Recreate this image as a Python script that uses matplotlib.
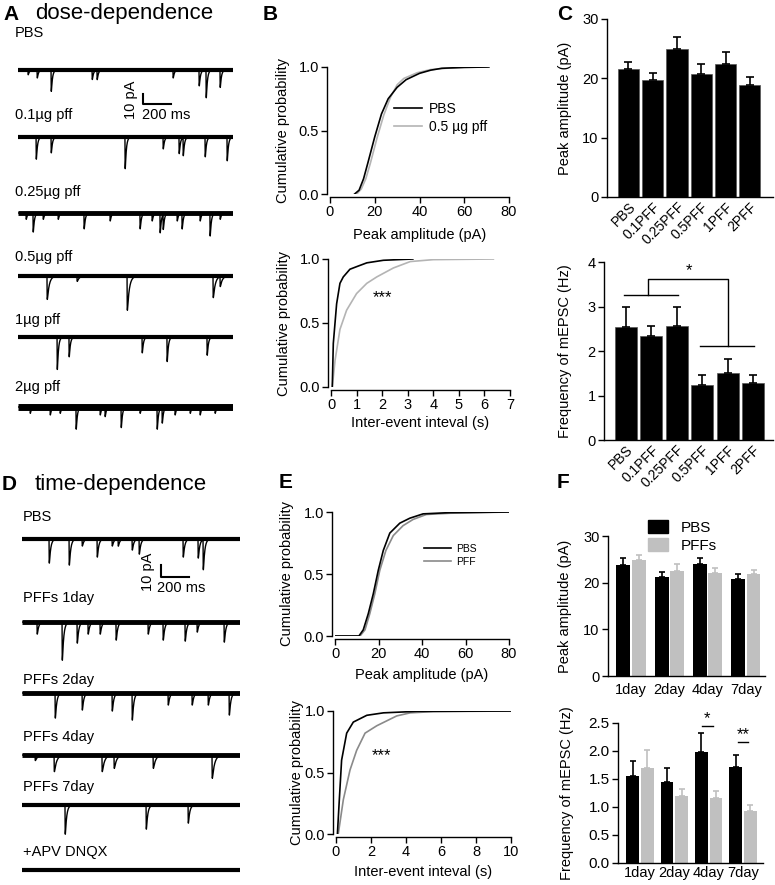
import numpy as np
import matplotlib
matplotlib.use("Agg")
import matplotlib.pyplot as plt
from matplotlib.patches import Patch

plt.rcParams['font.family'] = ['Liberation Sans', 'DejaVu Sans']

# ---------------- data ----------------
# traces: event times (ms) and amplitudes (pA)
A_LABELS = ["PBS", "0.1\u00b5g pff", "0.25\u00b5g pff", "0.5\u00b5g pff", "1\u00b5g pff", "2\u00b5g pff"]
A_PBS_T = [71, 136, 236, 529, 564, 1107, 1293, 1343, 1443]
A_PBS_A = [6, 10, 27, 12, 12, 10, 20, 35, 22]
A_01_T = [129, 236, 764, 1036, 1150, 1179, 1336, 1493]
A_01_A = [28, 20, 40, 15, 21, 23, 25, 30]
A_025_T = [57, 107, 179, 286, 471, 657, 871, 957, 1014, 1036, 1136, 1171, 1300, 1371, 1443]
A_025_A = [8, 24, 8, 8, 20, 10, 20, 10, 25, 19, 10, 20, 10, 29, 8]
A_05_T = [207, 421, 779, 1393, 1443]
A_05_A = [26, 6, 38, 24, 11]
A_1_T = [279, 364, 886, 1064, 1350]
A_1_A = [41, 25, 20, 31, 23]
A_2_T = [86, 229, 300, 414, 586, 621, 736, 871, 993, 1029, 1121, 1229, 1300, 1407]
A_2_A = [8, 10, 8, 28, 10, 12, 26, 8, 28, 20, 10, 8, 10, 8]

D_LABELS = ["PBS", "PFFs 1day", "PFFs 2day", "PFFs 4day", "PFFs 7day", "+APV DNQX"]
D_PBS_T = [193, 336, 429, 536, 643, 686, 786, 836, 1150, 1257, 1293]
D_PBS_A = [24, 26, 7, 18, 7, 7, 11, 15, 18, 19, 30]
D_1D_T = [107, 286, 393, 471, 557, 671, 900, 1007, 1164, 1250, 1443]
D_1D_A = [12, 38, 21, 12, 12, 18, 12, 18, 19, 10, 20]
D_2D_T = [236, 429, 643, 786, 1043, 1214, 1329, 1479]
D_2D_A = [25, 17, 18, 27, 12, 12, 12, 22]
D_4D_T = [93, 229, 571, 657, 936, 1357]
D_4D_A = [5, 15, 15, 12, 12, 21]
D_7D_T = [307, 886, 1186]
D_7D_A = [29, 24, 18]
D_APV_T = []
D_APV_A = []

# cumulative distributions
B_AMP_PBS_X = [11, 13, 15, 17, 20, 23, 26, 30, 34, 40, 45, 50, 60, 71]
B_AMP_PBS_Y = [0, 0.03, 0.12, 0.25, 0.45, 0.63, 0.75, 0.84, 0.90, 0.95, 0.975, 0.99, 0.997, 1.0]
B_AMP_PFF_X = [12, 14, 16, 18, 21, 24, 27, 30, 33, 39, 45, 52, 60, 70]
B_AMP_PFF_Y = [0, 0.04, 0.12, 0.24, 0.44, 0.62, 0.76, 0.86, 0.91, 0.955, 0.98, 0.99, 0.997, 1.0]
B_IEI_PBS_X = [0.05, 0.09, 0.22, 0.35, 0.48, 0.74, 1.0, 1.4, 2.05, 3.2]
B_IEI_PBS_Y = [0, 0.34, 0.65, 0.81, 0.86, 0.92, 0.94, 0.97, 0.99, 1.0]
B_IEI_PFF_X = [0.05, 0.16, 0.35, 0.61, 1.0, 1.4, 1.79, 2.44, 3.1, 4.0, 6.35]
B_IEI_PFF_Y = [0, 0.21, 0.45, 0.60, 0.73, 0.81, 0.86, 0.93, 0.98, 0.995, 1.0]

E_AMP_PBS_X = [0, 11, 13, 15.3, 17.6, 19.9, 22.2, 25.2, 29.8, 34.4, 40.5, 52.8, 80]
E_AMP_PBS_Y = [0, 0, 0.05, 0.18, 0.34, 0.53, 0.69, 0.83, 0.91, 0.95, 0.985, 0.995, 1.0]
E_AMP_PFF_X = [0, 11.5, 13.8, 16, 18.3, 20.6, 23.4, 26.8, 31.3, 35.9, 42, 52.8, 80]
E_AMP_PFF_Y = [0, 0, 0.05, 0.18, 0.34, 0.53, 0.69, 0.81, 0.89, 0.94, 0.98, 0.99, 1.0]
E_IEI_PBS_X = [0.08, 0.19, 0.32, 0.61, 0.99, 1.76, 2.71, 4.6, 10]
E_IEI_PBS_Y = [0, 0.28, 0.60, 0.82, 0.91, 0.965, 0.985, 0.997, 1.0]
E_IEI_PFF_X = [0.13, 0.42, 0.80, 1.18, 1.66, 2.33, 2.9, 3.47, 4.24, 5.57, 10]
E_IEI_PFF_Y = [0, 0.28, 0.52, 0.68, 0.82, 0.88, 0.92, 0.96, 0.985, 0.995, 1.0]

# bar charts
C_GROUPS = ["PBS", "0.1PFF", "0.25PFF", "0.5PFF", "1PFF", "2PFF"]
C_AMP = [21.6, 19.7, 24.9, 20.7, 22.4, 18.9]
C_AMP_ERR = [1.1, 1.2, 2.1, 1.8, 2.1, 1.3]
C_FREQ = [2.53, 2.33, 2.57, 1.23, 1.50, 1.28]
C_FREQ_ERR = [0.46, 0.24, 0.43, 0.23, 0.32, 0.17]

F_DAYS = ["1day", "2day", "4day", "7day"]
F_AMP_PBS = [23.8, 21.3, 24.0, 20.8]
F_AMP_PBS_ERR = [1.4, 1.0, 1.2, 1.0]
F_AMP_PFF = [24.8, 22.5, 22.0, 21.8]
F_AMP_PFF_ERR = [1.1, 1.4, 1.1, 1.0]
F_FREQ_PBS = [1.56, 1.44, 1.98, 1.71]
F_FREQ_PBS_ERR = [0.27, 0.26, 0.34, 0.22]
F_FREQ_PFF = [1.70, 1.19, 1.16, 0.92]
F_FREQ_PFF_ERR = [0.31, 0.14, 0.13, 0.11]

GRAY_B = "#b4b4b4"
GRAY_E = "#8a8a8a"
GRAY_F = "#c0c0c0"

W, H = 775, 885
fig = plt.figure(figsize=(7.75, 8.85), dpi=100)


def add_ax(x0, y0, x1, y1):
    return fig.add_axes([x0 / W, 1 - y1 / H, (x1 - x0) / W, (y1 - y0) / H])


def ftext(x, y, s, **kw):
    fig.text(x / W, 1 - y / H, s, **kw)


def style(ax, out=2):
    for s in ["top", "right"]:
        ax.spines[s].set_visible(False)
    for s in ["left", "bottom"]:
        ax.spines[s].set_position(("outward", out))
        ax.spines[s].set_linewidth(1.0)
    ax.tick_params(direction="out", length=4, width=1, labelsize=10.5, pad=2)


# ---------------- traces ----------------
t = np.arange(0, 1560, 0.5)


def make_trace(times, amps, tau):
    y = np.zeros_like(t)
    for t0, a in zip(times, amps):
        s = np.clip(t - t0, 0, None)
        k = np.exp(-s / tau) - np.exp(-s / 0.8)
        y -= a * k / 0.88
    return y


def draw_traces(ax, traces, labels, offsets, label_y, noise, taus, xlab):
    for (tt, aa), off, ly, nz, tau, lab in zip(traces, offsets, label_y, noise, taus, labels):
        ax.plot([t[0], t[-1]], [off, off], color="k", lw=nz, solid_capstyle="butt")
        ax.plot(t, off + make_trace(tt, aa, tau), color="k", lw=1.0)
        ax.text(xlab, ly, lab, fontsize=10.5, va="center", ha="left")


axA = add_ax(18, 20, 233, 445)
axA.set_xlim(0, 1536)
axA.set_ylim(-425, 0)
axA.axis("off")
draw_traces(axA,
            [(A_PBS_T, A_PBS_A), (A_01_T, A_01_A), (A_025_T, A_025_A),
             (A_05_T, A_05_A), (A_1_T, A_1_A), (A_2_T, A_2_A)],
            A_LABELS, [-50, -117, -193, -256, -317, -387],
            [-13, -95, -172, -237, -300, -367],
            [3.0, 3.0, 3.5, 3.0, 3.0, 5.0], [8, 8, 8, 14, 8, 8], -21)
axA.plot([893, 893, 1093], [-74, -84, -84], color="k", lw=1.5)
axA.text(805, -80, "10 pA", rotation=90, fontsize=10.5, ha="center", va="center")
axA.text(886, -95, "200 ms", fontsize=10.5, ha="left", va="center")

axD = add_ax(22, 470, 240, 885)
axD.set_xlim(0, 1557)
axD.set_ylim(-345.8, 0)
axD.axis("off")
draw_traces(axD,
            [(D_PBS_T, D_PBS_A), (D_1D_T, D_1D_A), (D_2D_T, D_2D_A),
             (D_4D_T, D_4D_A), (D_7D_T, D_7D_A), (D_APV_T, D_APV_A)],
            D_LABELS, [-57.5, -126.7, -185.8, -237.5, -279.2, -333.3],
            [-39, -106.7, -175, -222.5, -264, -318],
            [3.0, 3.5, 3.5, 3.5, 3.0, 3.0], [10, 10, 10, 16, 10, 10], 7)
axD.plot([993, 993, 1193], [-79.2, -89.2, -89.2], color="k", lw=1.5)
axD.text(900, -85, "10 pA", rotation=90, fontsize=10.5, ha="center", va="center")
axD.text(964, -98, "200 ms", fontsize=10.5, ha="left", va="center")

# ---------------- cumulative plots ----------------
def cum_axes(box, xmax, xticks, xlabel, ylab_x, xlab_y):
    ax = add_ax(*box)
    style(ax)
    ax.set_xlim(0, xmax)
    ax.set_ylim(0, 1)
    ax.set_xticks(xticks)
    ax.set_yticks([0, 0.5, 1.0])
    ax.set_yticklabels(["0.0", "0.5", "1.0"])
    ax.set_xlabel(xlabel, fontsize=10.5)
    ax.set_ylabel("Cumulative probability", fontsize=10.5)
    ax.yaxis.set_label_coords(ylab_x, 0.5)
    ax.xaxis.set_label_coords(0.5, xlab_y)
    return ax


axB1 = cum_axes((330, 67, 509, 194), 80, [0, 20, 40, 60, 80], "Peak amplitude (pA)", -0.225, -0.27)
axB1.plot(B_AMP_PFF_X, B_AMP_PFF_Y, color=GRAY_B, lw=1.2, label="0.5 \u00b5g pff")
axB1.plot(B_AMP_PBS_X, B_AMP_PBS_Y, color="k", lw=1.2, label="PBS")
h, l = axB1.get_legend_handles_labels()
axB1.legend(h[::-1], l[::-1], frameon=False, fontsize=10, loc="center left",
            bbox_to_anchor=(0.29, 0.6), handlelength=2.0, handletextpad=0.5, labelspacing=0.3)

axB2 = cum_axes((331, 259, 510, 387), 7, range(8), "Inter-event inteval (s)", -0.225, -0.23)
axB2.plot(B_IEI_PFF_X, B_IEI_PFF_Y, color=GRAY_B, lw=1.2)
axB2.plot(B_IEI_PBS_X, B_IEI_PBS_Y, color="k", lw=1.2)
axB2.text(2.0, 0.70, "***", fontsize=12, ha="center", va="center")

axE1 = cum_axes((335, 512, 509, 636), 80, [0, 20, 40, 60, 80], "Peak amplitude (pA)", -0.235, -0.26)
axE1.plot(E_AMP_PFF_X, E_AMP_PFF_Y, color=GRAY_E, lw=1.2, label="PFF")
axE1.plot(E_AMP_PBS_X, E_AMP_PBS_Y, color="k", lw=1.2, label="PBS")
h, l = axE1.get_legend_handles_labels()
axE1.legend(h[::-1], l[::-1], frameon=False, fontsize=7.5, loc="center left",
            bbox_to_anchor=(0.455, 0.65), handlelength=2.6, handletextpad=0.5, labelspacing=0.25)

axE2 = cum_axes((336, 711, 511, 834), 10, [0, 2, 4, 6, 8, 10], "Inter-event inteval (s)", -0.185, -0.25)
axE2.plot(E_IEI_PFF_X, E_IEI_PFF_Y, color=GRAY_E, lw=1.2)
axE2.plot(E_IEI_PBS_X, E_IEI_PBS_Y, color="k", lw=1.2)
axE2.text(2.6, 0.64, "***", fontsize=12, ha="center", va="center")

# ---------------- bar charts ----------------
def bar_axes(box, xlim, ylim, yticks, ylabel, ylab_x):
    ax = add_ax(*box)
    style(ax, out=0)
    ax.set_xlim(*xlim)
    ax.set_ylim(*ylim)
    ax.set_yticks(yticks)
    ax.set_ylabel(ylabel, fontsize=10.5)
    ax.yaxis.set_label_coords(ylab_x, 0.5)
    ax.tick_params(axis="x", length=0)
    return ax


xc = np.arange(len(C_GROUPS))
axC1 = bar_axes((607, 19, 773, 197), (-0.88, 5.95), (0, 30), [0, 10, 20, 30], "Peak amplitude (pA)", -0.21)
axC1.bar(xc, C_AMP, width=0.87, color="k", edgecolor="#555555", lw=0.5)
axC1.errorbar(xc, C_AMP, yerr=[np.zeros(len(xc)), C_AMP_ERR], fmt="none", ecolor="k",
              elinewidth=1.2, capsize=3, capthick=1.2)
axC1.set_xticks(xc)
axC1.set_xticklabels(C_GROUPS, rotation=45, ha="right", rotation_mode="anchor", fontsize=10)

axC2 = bar_axes((604, 262, 773, 440), (-0.87, 5.79), (0, 4), [0, 1, 2, 3, 4], "Frequency of mEPSC (Hz)", -0.19)
axC2.bar(xc, C_FREQ, width=0.87, color="k", edgecolor="#555555", lw=0.5)
axC2.errorbar(xc, C_FREQ, yerr=[np.zeros(len(xc)), C_FREQ_ERR], fmt="none", ecolor="k",
              elinewidth=1.2, capsize=3, capthick=1.2)
axC2.set_xticks(xc)
axC2.set_xticklabels(C_GROUPS, rotation=45, ha="right", rotation_mode="anchor", fontsize=10)
axC2.plot([-0.08, 2.05], [3.25, 3.25], color="k", lw=1)
axC2.plot([0.87, 0.87, 4.02, 4.02], [3.25, 3.62, 3.62, 2.12], color="k", lw=1)
axC2.plot([2.91, 5.04], [2.12, 2.12], color="k", lw=1)
axC2.text(2.48, 3.80, "*", fontsize=12, ha="center", va="center")

xf = np.arange(len(F_DAYS))
axF1 = bar_axes((608, 536, 765, 676), (-0.6, 3.5), (0, 30), [0, 10, 20, 30], "Peak amplitude (pA)", -0.23)
axF1.bar(xf - 0.2, F_AMP_PBS, width=0.36, color="k")
axF1.bar(xf + 0.2, F_AMP_PFF, width=0.36, color=GRAY_F)
axF1.errorbar(xf - 0.2, F_AMP_PBS, yerr=[np.zeros(4), F_AMP_PBS_ERR], fmt="none", ecolor="k",
              elinewidth=1.2, capsize=2.5, capthick=1.2)
axF1.errorbar(xf + 0.2, F_AMP_PFF, yerr=[np.zeros(4), F_AMP_PFF_ERR], fmt="none", ecolor=GRAY_F,
              elinewidth=1.2, capsize=2.5, capthick=1.2)
axF1.set_xticks(xf)
axF1.set_xticklabels(F_DAYS, fontsize=10.5)
axF1.tick_params(axis="x", pad=5)
axF1.legend([Patch(color="k"), Patch(color=GRAY_F)], ["PBS", "PFFs"], frameon=False, fontsize=11,
            loc="upper left", bbox_to_anchor=(0.17, 1.21), handlelength=1.3, handleheight=0.9,
            handletextpad=0.8, labelspacing=0.2)

axF2 = bar_axes((618, 723, 763, 863), (-0.64, 3.58), (0, 2.5), [0, 0.5, 1.0, 1.5, 2.0, 2.5],
                "Frequency of mEPSC (Hz)", -0.30)
axF2.bar(xf - 0.21, F_FREQ_PBS, width=0.37, color="k")
axF2.bar(xf + 0.21, F_FREQ_PFF, width=0.37, color=GRAY_F)
axF2.errorbar(xf - 0.21, F_FREQ_PBS, yerr=[np.zeros(4), F_FREQ_PBS_ERR], fmt="none", ecolor="k",
              elinewidth=1.2, capsize=2.5, capthick=1.2)
axF2.errorbar(xf + 0.21, F_FREQ_PFF, yerr=[np.zeros(4), F_FREQ_PFF_ERR], fmt="none", ecolor=GRAY_F,
              elinewidth=1.2, capsize=2.5, capthick=1.2)
axF2.set_xticks(xf)
axF2.set_xticklabels(F_DAYS, fontsize=10.5)
axF2.set_yticklabels(["0.0", "0.5", "1.0", "1.5", "2.0", "2.5"])
axF2.tick_params(axis="y", labelsize=11)
axF2.plot([1.81, 2.13], [2.45, 2.45], color="k", lw=1)
axF2.text(1.96, 2.58, "*", fontsize=12, ha="center", va="center")
axF2.plot([2.84, 3.13], [2.16, 2.16], color="k", lw=1)
axF2.text(3.0, 2.29, "**", fontsize=12, ha="center", va="center")

# ---------------- panel letters / titles ----------------
for x, y, s in [(3, 14, "A"), (263, 14, "B"), (557, 14, "C"),
                (2, 485, "D"), (279, 482, "E"), (557, 482, "F")]:
    ftext(x, y, s, fontsize=15, fontweight="bold", va="center", ha="left")
ftext(35, 14, "dose-dependence", fontsize=16, va="center", ha="left")
ftext(35, 485, "time-dependence", fontsize=16, va="center", ha="left")

fig.savefig("out.png", dpi=100)
